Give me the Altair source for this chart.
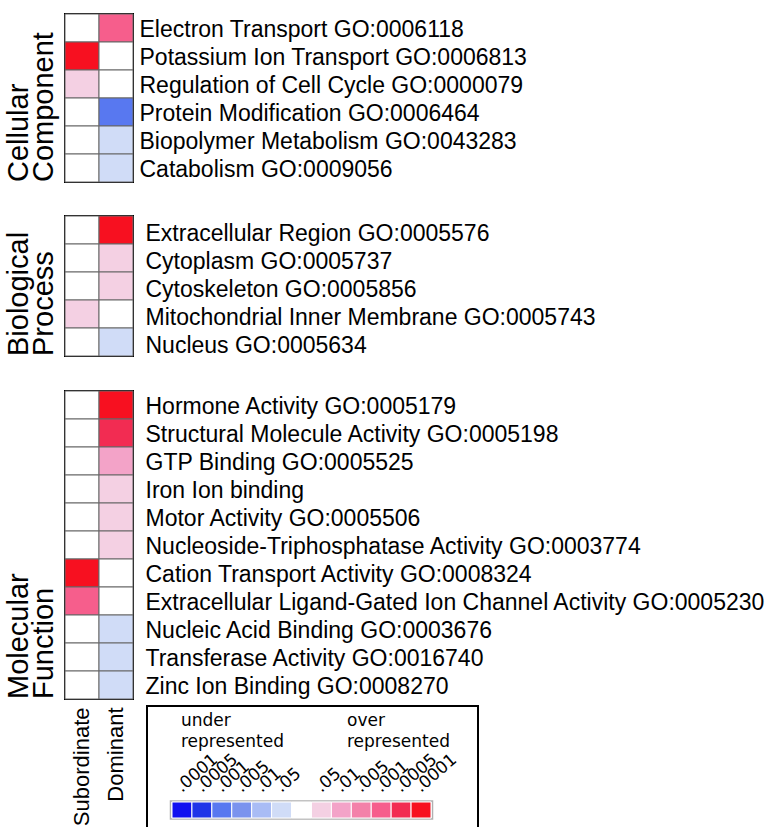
import altair as alt
import pandas as pd

# Significance levels: negative = under-represented, positive = over-represented.
# |level| 1..6 correspond to p < .05, .01, .005, .001, .0005, .0001; 0 = not significant.
levels = [-6, -5, -4, -3, -2, -1, 0, 1, 2, 3, 4, 5, 6]
level_colors = [
    "#1010F0", "#2035E8", "#5878F0", "#7B93EE", "#A9BCF5", "#D0DCF7",
    "#FFFFFF",
    "#F4D0E3", "#F3A3C8", "#F381A9", "#F65E8C", "#F22C52", "#F71020",
]
level_labels = [".0001", ".0005", ".001", ".005", ".01", ".05", "",
                ".05", ".01", ".005", ".001", ".0005", ".0001"]

groups = ["Subordinate", "Dominant"]

cc_terms = [
    "Electron Transport GO:0006118",
    "Potassium Ion Transport GO:0006813",
    "Regulation of Cell Cycle GO:0000079",
    "Protein Modification GO:0006464",
    "Biopolymer Metabolism GO:0043283",
    "Catabolism GO:0009056",
]
cc_sub = [0, 6, 1, 0, 0, 0]
cc_dom = [4, 0, 0, -4, -1, -1]

bp_terms = [
    "Extracellular Region GO:0005576",
    "Cytoplasm GO:0005737",
    "Cytoskeleton GO:0005856",
    "Mitochondrial Inner Membrane GO:0005743",
    "Nucleus GO:0005634",
]
bp_sub = [0, 0, 0, 1, 0]
bp_dom = [6, 1, 1, 0, -1]

mf_terms = [
    "Hormone Activity GO:0005179",
    "Structural Molecule Activity GO:0005198",
    "GTP Binding GO:0005525",
    "Iron Ion binding",
    "Motor Activity GO:0005506",
    "Nucleoside-Triphosphatase Activity GO:0003774",
    "Cation Transport Activity GO:0008324",
    "Extracellular Ligand-Gated Ion Channel Activity GO:0005230",
    "Nucleic Acid Binding GO:0003676",
    "Transferase Activity GO:0016740",
    "Zinc Ion Binding GO:0008270",
]
mf_sub = [0, 0, 0, 0, 0, 0, 6, 4, 0, 0, 0]
mf_dom = [6, 5, 2, 1, 1, 1, 0, 0, -1, -1, -1]

FONT = "Liberation Sans"
ROW = 28
CELL_W = 68

color_scale = alt.Scale(domain=levels, range=level_colors)


def long_table(terms, sub, dom):
    rows = []
    for t, s, d in zip(terms, sub, dom):
        rows.append({"term": t, "group": "Subordinate", "level": s})
        rows.append({"term": t, "group": "Dominant", "level": d})
    return pd.DataFrame(rows)


def heatmap(terms, sub, dom, title_lines, label_pad, label_offset, show_x):
    df = long_table(terms, sub, dom)
    x_axis = (
        alt.Axis(orient="bottom", title=None, labelAngle=270, labelFontSize=22,
                 labelFont=FONT, labelColor="black", labelPadding=8,
                 ticks=False, domain=False)
        if show_x else None
    )
    return alt.Chart(df).mark_rect(stroke="#666666", strokeWidth=1).encode(
        x=alt.X("group:N", sort=groups,
                scale=alt.Scale(paddingInner=0, paddingOuter=0), axis=x_axis),
        y=alt.Y("term:N", sort=terms,
                scale=alt.Scale(paddingInner=0, paddingOuter=0),
                axis=alt.Axis(orient="right", title=None, ticks=False,
                              domain=False, labelFontSize=23, labelFont=FONT,
                              labelColor="black", labelPadding=label_pad,
                              labelOffset=label_offset, labelLimit=1000)),
        color=alt.Color("level:O", scale=color_scale, legend=None),
    ).properties(
        width=CELL_W,
        height=ROW * len(terms),
        title=alt.TitleParams(text=title_lines, orient="left", anchor="start",
                              frame="group", font=FONT, fontSize=29,
                              fontWeight="normal", lineHeight=25, offset=6,
                              color="black"),
    )


cc = heatmap(cc_terms, cc_sub, cc_dom, ["Cellular", "Component"], 6, 2, False)
bp = heatmap(bp_terms, bp_sub, bp_dom, ["Biological", "Process"], 12, 4, False)
mf = heatmap(mf_terms, mf_sub, mf_dom, ["Molecular", "Function"], 12, 2, True)

# Colour key drawn under the Molecular Function block
key_df = pd.DataFrame({"level": levels, "label": level_labels})
one_row = pd.DataFrame({"k": [0]})
key_x = alt.Scale(domain=levels, range=[107, 366], paddingInner=0, paddingOuter=0)
KFONT = "DejaVu Sans"

key_frame_left = alt.Chart(one_row).mark_rule(color="black", strokeWidth=2).encode(
    x=alt.value(82), y=alt.value(315), y2=alt.value(436))
key_frame_top = alt.Chart(one_row).mark_rule(color="black", strokeWidth=2).encode(
    x=alt.value(81), x2=alt.value(414), y=alt.value(315))
key_frame_right = alt.Chart(one_row).mark_rule(color="black", strokeWidth=2).encode(
    x=alt.value(413), y=alt.value(315), y2=alt.value(436))

key_outline = alt.Chart(one_row).mark_rect(fill="white", stroke="#B0B0B0",
                                           strokeWidth=1.5).encode(
    x=alt.value(105.5), x2=alt.value(367.5), y=alt.value(410), y2=alt.value(428))

key_swatches = alt.Chart(key_df).mark_rect(stroke="white", strokeWidth=1).encode(
    x=alt.X("level:O", scale=key_x, axis=None),
    y=alt.value(411), y2=alt.value(427),
    color=alt.Color("level:O", scale=color_scale, legend=None),
)

key_labels = alt.Chart(key_df).mark_text(
    align="left", baseline="alphabetic", angle=319, fontSize=17, font=KFONT,
    color="black").encode(
    x=alt.X("level:O", scale=key_x, axis=None),
    y=alt.value(402),
    text="label:N",
)


def key_word(text, x, y):
    return alt.Chart(one_row).mark_text(
        text=text, align="left", baseline="alphabetic", fontSize=17,
        font=KFONT, color="black").encode(x=alt.value(x), y=alt.value(y))


key_heads = [
    key_word("under", 116, 335), key_word("represented", 116, 356),
    key_word("over", 282, 335), key_word("represented", 282, 356),
]

mf_with_key = alt.layer(
    mf, key_frame_left, key_frame_top, key_frame_right, key_outline,
    key_swatches, key_labels, *key_heads,
).resolve_scale(x="independent")

chart = alt.vconcat(cc, bp, mf_with_key, spacing=30).properties(
    padding={"left": 3, "top": 12, "right": 0, "bottom": 0},
    background="white",
).configure_view(stroke="black", strokeWidth=2)

chart.save("out.html", embed_options={"renderer": "svg", "actions": False})
